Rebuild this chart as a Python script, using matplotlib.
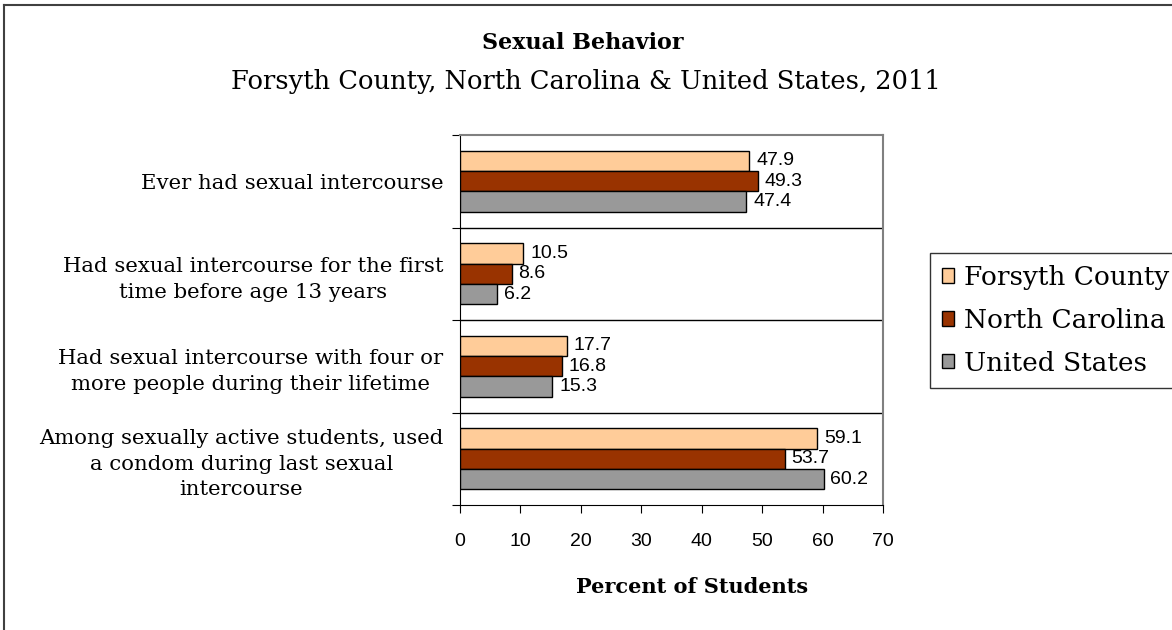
import matplotlib
matplotlib.use('Agg')
import matplotlib.pyplot as plt
from matplotlib.lines import Line2D
import numpy as np

categories = ['Ever had sexual intercourse',
              'Had sexual intercourse for the first\ntime before age 13 years',
              'Had sexual intercourse with four or\nmore people during their lifetime',
              'Among sexually active students, used\na condom during last sexual\nintercourse']
series = ['Forsyth County', 'North Carolina', 'United States']
forsyth = [47.9, 10.5, 17.7, 59.1]
nc = [49.3, 8.6, 16.8, 53.7]
us = [47.4, 6.2, 15.3, 60.2]
colors = ['#FFCC99', '#993300', '#999999']

serif = 'DejaVu Serif'
sans = 'Liberation Sans'

fig = plt.figure(figsize=(11.72, 6.3), dpi=100)
ax = fig.add_axes([460/1172, 1-505/630, 423/1172, 370/630])

centers = np.arange(len(categories)) + 0.5
h = 0.22
for k, (vals, name) in enumerate(zip([forsyth, nc, us], series)):
    ypos = centers + (k - 1) * h
    ax.barh(ypos, vals, height=h, color=colors[k], edgecolor='black',
            linewidth=1, label=name, zorder=3)
    for y, v in zip(ypos, vals):
        ax.text(v + 1.1, y, f'{v:.1f}', va='center', ha='left',
                fontsize=14, family=sans, zorder=4)

ax.set_xlim(0, 70)
ax.set_ylim(len(categories), 0)
ax.set_xticks(range(0, 71, 10))
ax.tick_params(axis='x', labelsize=14, length=6, direction='out', pad=14)
for lbl in ax.get_xticklabels():
    lbl.set_family(sans)

ax.set_yticks(range(len(categories) + 1))
ax.set_yticklabels([])
ax.tick_params(axis='y', length=6, direction='out')
ax.set_yticks(centers, minor=True)
ax.set_yticklabels(categories, minor=True, fontsize=15.3, family=serif,
                   multialignment='center', linespacing=1.45)
ax.tick_params(axis='y', which='minor', length=0, pad=12)

for b in range(1, len(categories)):
    ax.axhline(b, color='black', lw=1, zorder=2)

ax.spines['top'].set_color('#808080')
ax.spines['right'].set_color('#808080')
ax.spines['top'].set_linewidth(1.5)
ax.spines['right'].set_linewidth(1.5)

ax.set_xlabel('Percent of Students', fontsize=15, fontweight='bold',
              family=serif)
ax.xaxis.set_label_coords((692-460)/423, -(587-505)/370)
ax.xaxis.label.set_va('center')

fig.text(583/1172, 1-43/630, 'Sexual Behavior', ha='center', va='center',
         fontsize=16, fontweight='bold', family=serif)
fig.text(586/1172, 1-82/630, 'Forsyth County, North Carolina & United States, 2011',
         ha='center', va='center', fontsize=18.5, family=serif)

leg = ax.legend(loc='upper left', bbox_to_anchor=(930/1172, 1-253/630),
                bbox_transform=fig.transFigure, frameon=True, fancybox=False,
                edgecolor='black', prop={'family': serif, 'size': 19},
                handlelength=0.45, handleheight=0.45, handletextpad=0.4,
                borderpad=0.45, labelspacing=0.68, borderaxespad=0)
leg.get_frame().set_linewidth(1)

fig.add_artist(Line2D([4/1172, 4/1172], [0, 1-5/630], color='#404040',
                      lw=1.5, transform=fig.transFigure))
fig.add_artist(Line2D([4/1172, 1], [1-5/630, 1-5/630], color='#404040',
                      lw=1.5, transform=fig.transFigure))

fig.savefig('out.png', dpi=100)
